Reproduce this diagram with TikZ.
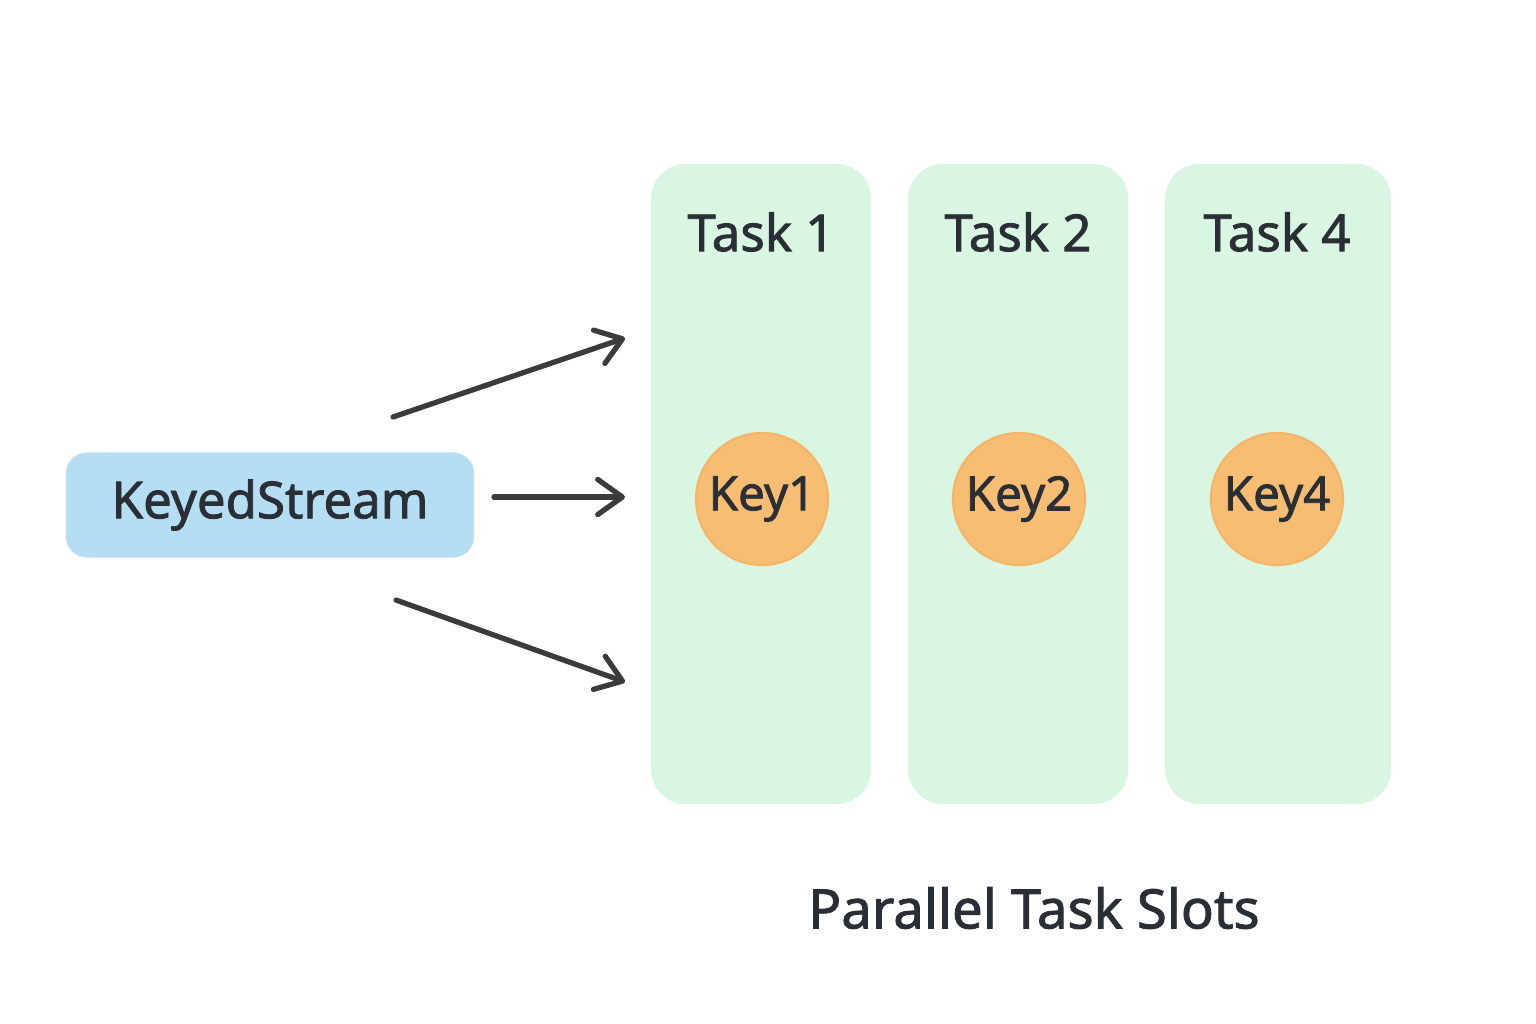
\documentclass[tikz,border=0pt]{standalone}
\usepackage{fontspec}
\setmainfont{Noto Sans}[BoldFont={Noto Sans},BoldFeatures={FakeBold=1.6}]
\usetikzlibrary{arrows.meta}
\definecolor{streamblue}{HTML}{B5DEF2}
\definecolor{slotgreen}{HTML}{D9F6E2}
\definecolor{keyorange}{HTML}{F7BD73}
\definecolor{keyedge}{HTML}{F5B566}
\definecolor{inkdark}{HTML}{2A2F35}
\definecolor{arrowgray}{HTML}{3A3B3D}
\tikzset{
  stream/.style={fill=streamblue,rounded corners=6pt,minimum width=4.08cm,minimum height=1.05cm,text=inkdark,font=\fontsize{14.5}{17}\selectfont\bfseries},
  slot/.style={fill=slotgreen,rounded corners=10pt,minimum width=2.2cm,minimum height=6.4cm},
  keydot/.style={circle,fill=keyorange,draw=keyedge,line width=0.6pt,minimum size=1.32cm,inner sep=0pt,text=inkdark,font=\fontsize{13.5}{16}\selectfont\bfseries},
  slottitle/.style={text=inkdark,font=\fontsize{14.5}{17}\selectfont\bfseries},
  flow/.style={draw=arrowgray,line width=1.5pt,line cap=round,-{Straight Barb[length=7pt,width=10pt,round]}}
}
\begin{document}
\begin{tikzpicture}[x=0.01cm,y=-0.01cm]
    \useasboundingbox (0,0) rectangle (1536,1024);

    % input stream
    \node[stream] (ks) at (270,505) {KeyedStream};

    % task slots
    \node[slot] (s1) at (761,484) {};
    \node[slot] (s2) at (1018,484) {};
    \node[slot, minimum width=2.26cm] (s4) at (1278,484) {};

    \node[slottitle] (t1) at (761,232) {Task 1};
    \node[slottitle] (t2) at (1018,232) {Task 2};
    \node[slottitle] (t4) at (1277,232) {Task 4};

    \node[keydot] (k1) at (762,499) {Key1};
    \node[keydot] (k2) at (1019,499) {Key2};
    \node[keydot] (k4) at (1277,499) {Key4};

    % arrows into the slots
    \coordinate (a1) at (393,417);
    \coordinate (b1) at (625,338);
    \coordinate (a2) at (494,497);
    \coordinate (b2) at (625,497);
    \coordinate (a3) at (396,600);
    \coordinate (b3) at (625,682);
    \draw[flow] (a1) -- (b1);
    \draw[flow] (a2) -- (b2);
    \draw[flow] (a3) -- (b3);

    \node[slottitle, font=\fontsize{15.5}{18}\selectfont\bfseries] (cap) at (1034,908) {Parallel Task Slots};
\end{tikzpicture}
\end{document}
